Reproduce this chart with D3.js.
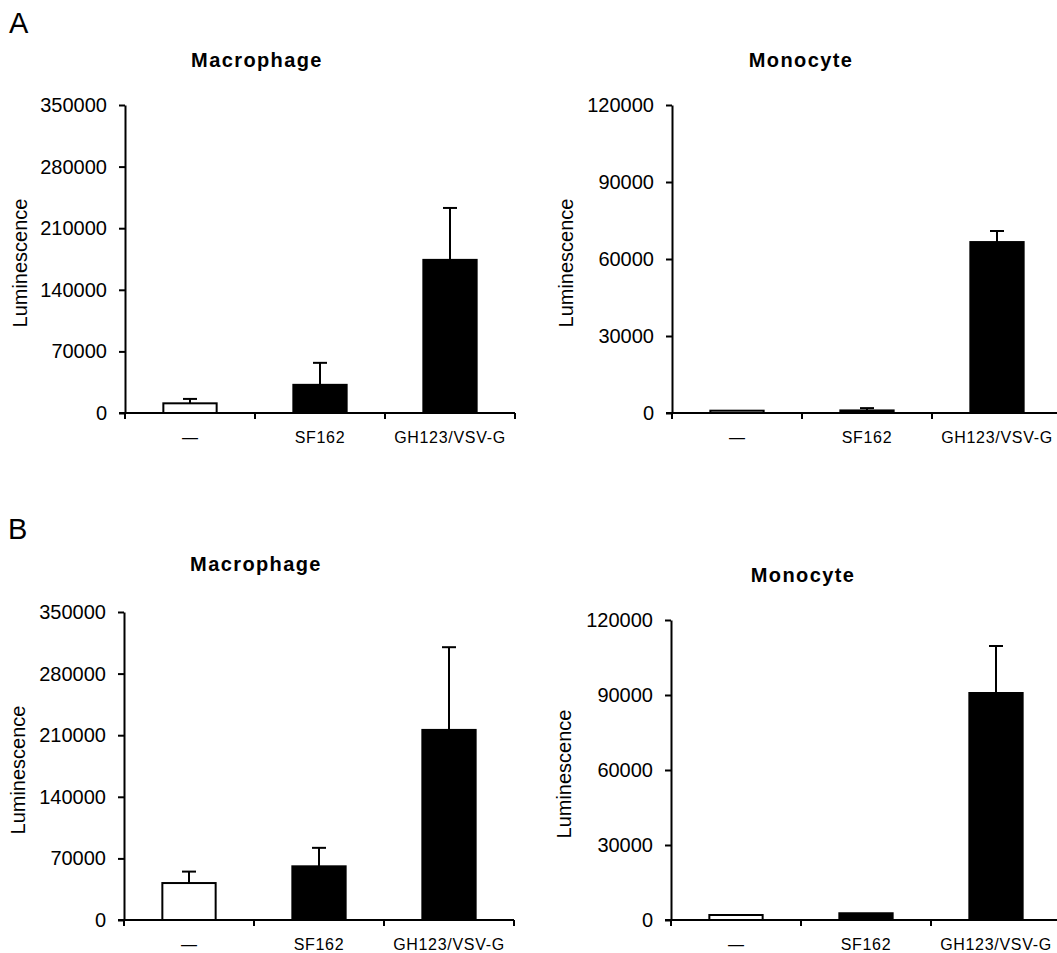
<!DOCTYPE html>
<html>
<head>
<meta charset="utf-8">
<script src="https://cdn.jsdelivr.net/npm/d3@7"></script>
<style>
  body { margin: 0; background: #fff; }
  text { font-family: "Liberation Sans", Arial, sans-serif; fill: #000; }
</style>
</head>
<body>
<svg width="1057" height="953"></svg>
<script>
// categories and values
var categories = ["—", "SF162", "GH123/VSV-G"];

var macATicks = [0, 70000, 140000, 210000, 280000, 350000];
var monoTicks = [0, 30000, 60000, 90000, 120000];

var macAMean = [11000, 32000, 174000];
var macAErr = [5000, 25000, 59000];
var monoAMean = [900, 1000, 66600];
var monoAErr = [0, 900, 4300];

var macBMean = [42000, 61000, 216000];
var macBErr = [13000, 21000, 94000];
var monoBMean = [2000, 2700, 90800];
var monoBErr = [0, 0, 18800];

var svg = d3.select("svg"),
    width = +svg.attr("width");

// panel letters
svg.append("text").attr("x", 9).attr("y", 33).attr("font-size", 29).text("A");
svg.append("text").attr("x", 8).attr("y", 539).attr("font-size", 29).text("B");

var panels = [
  { title: "Macrophage", mean: macAMean, err: macAErr, ticks: macATicks,
    left: 125, y0: 413, yTop: 105, titleX: 257, titleY: 67, labelX: 20, extend: false },
  { title: "Monocyte", mean: monoAMean, err: monoAErr, ticks: monoTicks,
    left: 672, y0: 413, yTop: 105, titleX: 801, titleY: 67, labelX: 566, extend: true },
  { title: "Macrophage", mean: macBMean, err: macBErr, ticks: macATicks,
    left: 124, y0: 920, yTop: 612, titleX: 256, titleY: 571, labelX: 18, extend: false },
  { title: "Monocyte", mean: monoBMean, err: monoBErr, ticks: monoTicks,
    left: 671, y0: 920, yTop: 620, titleX: 803, titleY: 582, labelX: 564, extend: true }
];

panels.forEach(drawPanel);

function drawPanel(p) {
  var g = svg.append("g");

  var y = d3.scaleLinear()
      .domain([0, d3.max(p.ticks)])
      .range([p.y0, p.yTop]);

  var x = d3.scaleBand()
      .domain(categories)
      .range([p.left, p.left + 390])
      .paddingInner(0.59)
      .paddingOuter(0.295);

  // title
  g.append("text")
      .attr("x", p.titleX)
      .attr("y", p.titleY)
      .attr("text-anchor", "middle")
      .attr("font-size", 20)
      .attr("font-weight", "bold")
      .attr("letter-spacing", 1.4)
      .text(p.title);

  // y label
  g.append("text")
      .attr("transform", "translate(" + (p.labelX + 7) + "," + ((p.y0 + p.yTop) / 2 + 4) + ") rotate(-90)")
      .attr("text-anchor", "middle")
      .attr("font-size", 20)
      .text("Luminescence");

  // bars
  g.selectAll("rect.bar")
      .data(p.mean)
      .enter().append("rect")
      .attr("class", "bar")
      .attr("x", function (d, i) { return x(categories[i]); })
      .attr("width", x.bandwidth())
      .attr("y", function (d) { return y(d); })
      .attr("height", function (d) { return p.y0 - y(d); })
      .attr("fill", function (d, i) { return i === 0 ? "#fff" : "#000"; })
      .attr("stroke", "#000")
      .attr("stroke-width", 2);

  // error bars (upper only)
  var eb = g.selectAll("g.err")
      .data(p.mean.map(function (m, i) { return { m: m, e: p.err[i], c: categories[i] }; })
        .filter(function (d) { return d.e > 0; }))
      .enter().append("g")
      .attr("class", "err")
      .attr("stroke", "#000")
      .attr("stroke-width", 2);
  eb.append("line")
      .attr("x1", function (d) { return x(d.c) + x.bandwidth() / 2; })
      .attr("x2", function (d) { return x(d.c) + x.bandwidth() / 2; })
      .attr("y1", function (d) { return y(d.m); })
      .attr("y2", function (d) { return y(d.m + d.e); });
  eb.append("line")
      .attr("x1", function (d) { return x(d.c) + x.bandwidth() / 2 - 7; })
      .attr("x2", function (d) { return x(d.c) + x.bandwidth() / 2 + 7; })
      .attr("y1", function (d) { return y(d.m + d.e); })
      .attr("y2", function (d) { return y(d.m + d.e); });

  // y axis
  var yAxis = g.append("g")
      .attr("transform", "translate(" + p.left + ",0)")
      .call(d3.axisLeft(y)
        .tickValues(p.ticks)
        .tickSize(6)
        .tickSizeOuter(0)
        .tickPadding(12)
        .tickFormat(d3.format("d")));
  yAxis.select(".domain").attr("stroke-width", 2);
  yAxis.selectAll(".tick line").attr("stroke-width", 2);
  yAxis.selectAll(".tick text")
      .attr("font-size", 20)
      .attr("font-family", "Liberation Sans, Arial, sans-serif");

  // x axis line with ticks at band boundaries
  var xEnd = p.extend ? width : x.range()[1];
  g.append("line")
      .attr("x1", p.left - 6).attr("x2", xEnd)
      .attr("y1", p.y0).attr("y2", p.y0)
      .attr("stroke", "#000").attr("stroke-width", 2);

  var bounds = categories.map(function (c) { return x(c) - x.step() * x.paddingOuter(); });
  bounds.push(x.range()[1]);
  g.selectAll("line.xtick")
      .data(bounds)
      .enter().append("line")
      .attr("class", "xtick")
      .attr("x1", function (d) { return d; })
      .attr("x2", function (d) { return d; })
      .attr("y1", p.y0)
      .attr("y2", p.y0 + 6)
      .attr("stroke", "#000")
      .attr("stroke-width", 2);

  g.selectAll("text.xlab")
      .data(categories)
      .enter().append("text")
      .attr("class", "xlab")
      .attr("x", function (d) { return x(d) + x.bandwidth() / 2; })
      .attr("y", p.y0 + 30)
      .attr("text-anchor", "middle")
      .attr("font-size", 16)
      .attr("letter-spacing", function (d, i) { return i === 0 ? 0 : 0.7; })
      .text(function (d) { return d; });
}
</script>
</body>
</html>
